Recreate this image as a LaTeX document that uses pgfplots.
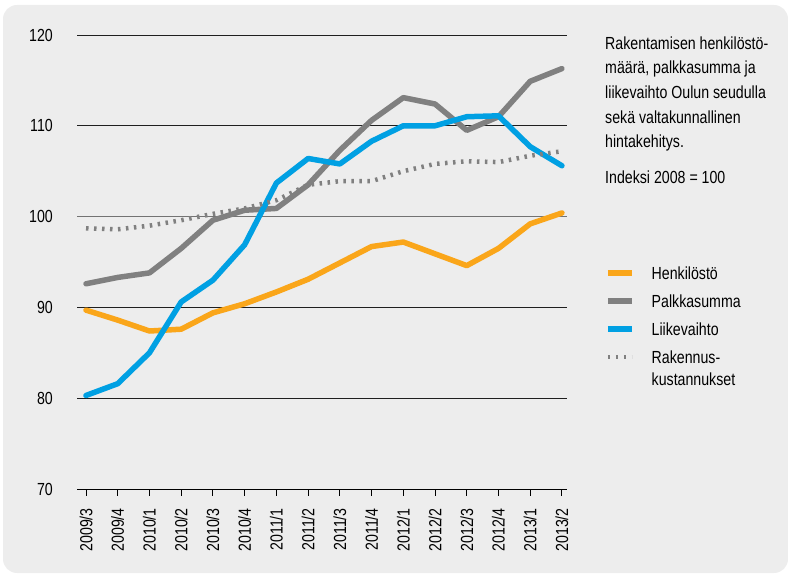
\documentclass[border=0pt]{standalone}
\usepackage{fontspec}
\setmainfont{Liberation Sans}[FakeStretch=0.81]
\usepackage{pgfplots}
\usepackage{pgfplotstable}
\pgfplotsset{compat=1.18}
\definecolor{panel}{HTML}{EDEDED}
\definecolor{corange}{HTML}{FAA61A}
\definecolor{cgray}{HTML}{808080}
\definecolor{cblue}{HTML}{00A0E3}
\newcommand\chartfont{\fontsize{17.5bp}{22.4bp}\selectfont}

\pgfplotstableread{
x henk palk liike rak
0 89.7 92.6 80.3 98.7
1 88.6 93.3 81.6 98.6
2 87.4 93.8 85.0 99.0
3 87.6 96.5 90.6 99.6
4 89.4 99.6 93.0 100.3
5 90.4 100.7 96.9 100.9
6 91.7 100.9 103.7 101.8
7 93.1 103.5 106.4 103.5
8 94.9 107.3 105.8 103.9
9 96.7 110.6 108.3 103.9
10 97.2 113.1 110.0 105.0
11 95.9 112.4 110.0 105.8
12 94.6 109.5 111.0 106.1
13 96.5 111.0 111.1 106.0
14 99.2 114.9 107.7 106.7
15 100.4 116.3 105.6 107.2
}\datatable

\begin{document}
\begin{tikzpicture}
\useasboundingbox (0,0) rectangle (788bp,574bp);
\fill[panel, rounded corners=14bp] (3bp,1bp) rectangle (788bp,569bp);
\begin{axis}[
  at={(77bp,85bp)}, anchor=south west,
  scale only axis, width=489.7bp, height=454bp,
  xmin=-0.284, xmax=15.15, ymin=70, ymax=120,
  axis lines*=left,
  y axis line style={draw=none},
  x axis line style={black, line width=0.9bp},
  xtick={0,...,15},
  xticklabels={2009/3,2009/4,2010/1,2010/2,2010/3,2010/4,2011/1,2011/2,2011/3,2011/4,2012/1,2012/2,2012/3,2012/4,2013/1,2013/2},
  ytick={70,80,90,110,120},
  extra y ticks={100},
  extra y tick style={grid style={color=cgray!90!black, line width=1.4bp}},
  ymajorgrids,
  grid style={black!88, line width=0.9bp},
  ytick style={draw=none},
  xtick style={black, line width=0.9bp},
  major tick length=7bp,
  tick align=outside,
  tick label style={font=\chartfont},
  /pgf/number format/assume math mode=true,
  yticklabel style={inner sep=0pt, anchor=east},
  yticklabel shift=17bp,
  xticklabel style={rotate=90, anchor=east, inner sep=0pt},
  xticklabel shift=12bp,
  legend style={at={(1.0782,0.4883)}, anchor=north west, draw=none, fill=none,
    inner sep=0pt, row sep=12bp, font=\chartfont,
    nodes={inner sep=0pt, text height=12bp, text depth=4bp},
    cells={anchor=base west}},
  legend image code/.code={\draw[#1, line cap=butt] (0bp,6.5bp) -- (24bp,6.5bp); \path (41bp,0bp);},
  every axis plot/.append style={line width=5.5bp, line join=round, line cap=round},
]
\addplot[corange] table[x=x, y=henk] {\datatable};
\addlegendentry{Henkilöstö}
\addplot[cgray] table[x=x, y=palk] {\datatable};
\addlegendentry{Palkkasumma}
\addplot[cblue] table[x=x, y=liike] {\datatable};
\addlegendentry{Liikevaihto}
\addplot[cgray, line width=4.5bp, line cap=butt, dash pattern=on 2.5bp off 5.5bp] table[x=x, y=rak] {\datatable};
\addlegendentry{\begin{tabular}[t]{@{}l@{}}Rakennus-\\kustannukset\end{tabular}}
\end{axis}
\begin{scope}[every node/.style={anchor=base west, inner sep=0pt, font=\chartfont}]
\node at (605bp,524.7bp) {Rakentamisen henkilöstö-};
\node at (605bp,500.1bp) {määrä, palkkasumma ja};
\node at (605bp,475.5bp) {liikevaihto Oulun seudulla};
\node at (605bp,450.9bp) {sekä valtakunnallinen};
\node at (605bp,426.3bp) {hintakehitys.};
\node at (605bp,390.7bp) {Indeksi 2008 = 100};
\end{scope}
\end{tikzpicture}
\end{document}
